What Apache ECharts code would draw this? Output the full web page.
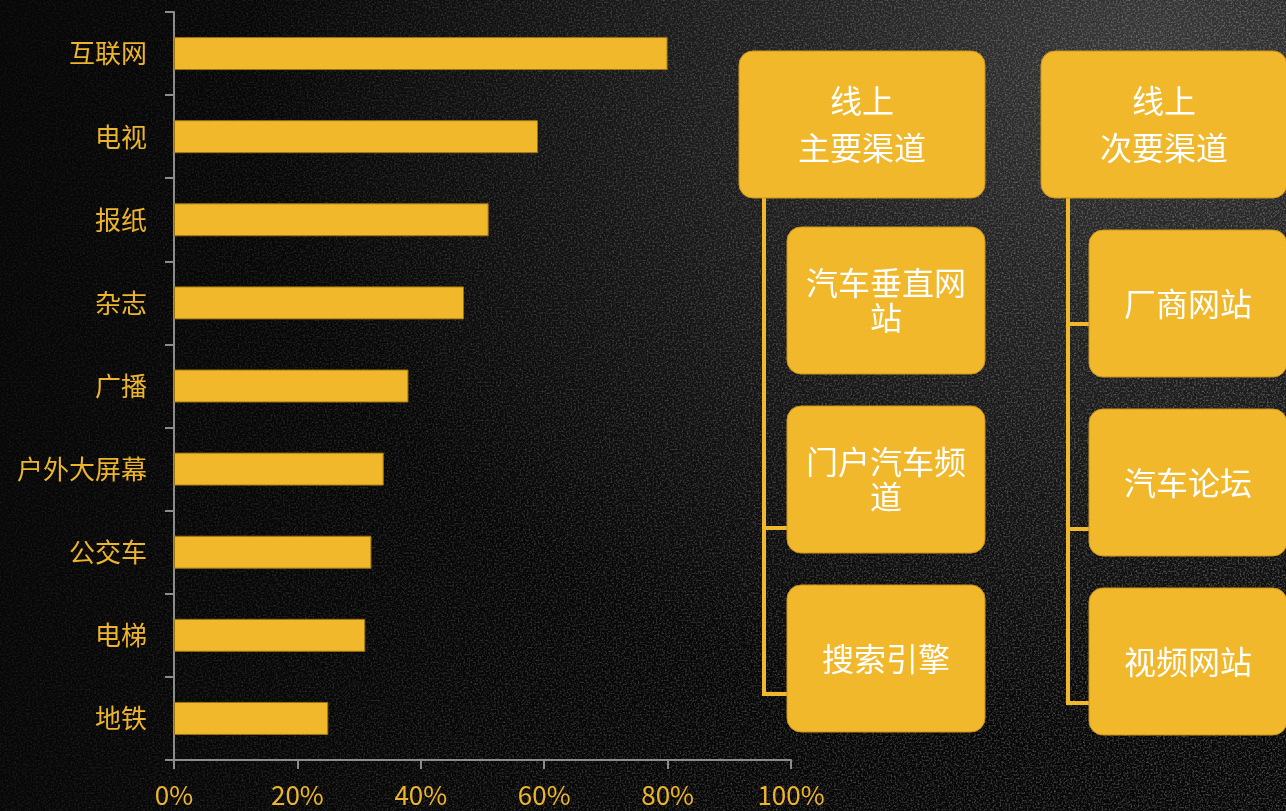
<!DOCTYPE html>
<html>
<head>
<meta charset="utf-8">
<script src="https://cdn.jsdelivr.net/npm/echarts@6/dist/echarts.min.js"></script>
<style>
  html, body { margin: 0; padding: 0; width: 1286px; height: 811px; overflow: hidden; background: #0a0a0a; }
  #wrap { position: relative; width: 1286px; height: 811px;
    background:
      radial-gradient(ellipse 900px 700px at 1150px 40px, #383838 0%, #242424 35%, #131313 70%, #070707 100%);
  }
  #grain { position: absolute; left: 0; top: 0; width: 1286px; height: 811px; opacity: 0.6; mix-blend-mode: screen;
    -webkit-mask-image: linear-gradient(100deg, rgba(0,0,0,0.15) 0%, rgba(0,0,0,0.65) 45%, #000 100%);
    mask-image: linear-gradient(100deg, rgba(0,0,0,0.15) 0%, rgba(0,0,0,0.65) 45%, #000 100%);
  }
  #chart { position: absolute; left: 0; top: 0; width: 1286px; height: 811px; }
</style>
</head>
<body>
<div id="wrap">
  <svg id="grain" width="1286" height="811" xmlns="http://www.w3.org/2000/svg">
    <filter id="n">
      <feTurbulence type="fractalNoise" baseFrequency="0.55" numOctaves="2" seed="7"/>
      <feColorMatrix type="matrix" values="0 0 0 0 0.45  0 0 0 0 0.45  0 0 0 0 0.45  0 0 0 1.8 -0.8"/>
    </filter>
    <rect width="1286" height="811" filter="url(#n)"/>
  </svg>
  <div id="chart"></div>
</div>
<script>
// media channels and their reach (%)
const categories = ['互联网', '电视', '报纸', '杂志', '广播', '户外大屏幕', '公交车', '电梯', '地铁'];
const reach = [80, 59, 51, 47, 38, 34, 32, 31, 25];

// online channel groups
const primaryTitle = '线上\n主要渠道';
const primaryItems = ['汽车垂直网\n站', '门户汽车频\n道', '搜索引擎'];
const secondaryTitle = '线上\n次要渠道';
const secondaryItems = ['厂商网站', '汽车论坛', '视频网站'];

const GOLD = '#F0B82A';
const LABEL = '#EDB52B';
const AXIS = '#8c8c8c';
const FONT = '"Noto Sans CJK SC", "Noto Sans", sans-serif';

function box(x, y, w, h, text, lineHeight) {
  return {
    type: 'group',
    children: [
      { type: 'rect', shape: { x: x, y: y, width: w, height: h, r: 14 },
        style: { fill: GOLD, stroke: '#c9951c', lineWidth: 1 } },
      { type: 'text', style: {
          x: x + w / 2, y: y + h / 2, text: text, align: 'center', verticalAlign: 'middle',
          fill: '#ffffff', fontSize: 32, fontFamily: FONT, lineHeight: lineHeight } }
    ]
  };
}

function connector(x, yTop, branches, toX) {
  const items = [{
    type: 'line', shape: { x1: x, y1: yTop, x2: x, y2: branches[branches.length - 1] + 2 },
    style: { stroke: GOLD, lineWidth: 4 }
  }];
  branches.forEach(function (by) {
    items.push({ type: 'line', shape: { x1: x - 2, y1: by, x2: toX, y2: by },
      style: { stroke: GOLD, lineWidth: 4 } });
  });
  return items;
}

const childTopsL = [227, 406, 585];
const childTopsR = [230, 409, 588];

const graphics = []
  .concat(connector(764, 196, [528, 694], 790))
  .concat(connector(1068, 196, [324, 529, 703], 1092))
  .concat([box(739, 51, 246, 147, primaryTitle, 47)])
  .concat(primaryItems.map(function (t, i) { return box(787, childTopsL[i], 198, 147, t, 35); }))
  .concat([box(1041, 51, 246, 147, secondaryTitle, 47)])
  .concat(secondaryItems.map(function (t, i) { return box(1089, childTopsR[i], 198, 147, t, 35); }));

const chart = echarts.init(document.getElementById('chart'), null, { renderer: 'canvas' });
chart.setOption({
  backgroundColor: 'transparent',
  animation: false,
  grid: { left: 174, right: 495, top: 12, bottom: 51, containLabel: false },
  xAxis: {
    type: 'value', min: 0, max: 100, interval: 20,
    axisLine: { show: true, lineStyle: { color: AXIS, width: 2 } },
    axisTick: { show: true, length: 9, lineStyle: { color: AXIS, width: 2 } },
    splitLine: { show: false },
    axisLabel: { color: LABEL, fontSize: 26, fontFamily: FONT, margin: 22, formatter: '{value}%' }
  },
  yAxis: {
    type: 'category', data: categories, inverse: true,
    axisLine: { show: true, lineStyle: { color: AXIS, width: 2 } },
    axisTick: { show: true, length: 9, lineStyle: { color: AXIS, width: 2 } },
    axisLabel: { color: LABEL, fontSize: 26, fontFamily: FONT, margin: 27 }
  },
  series: [{
    type: 'bar', data: reach, barWidth: 33,
    itemStyle: { color: GOLD, borderColor: '#9c7414', borderWidth: 1 }
  }],
  graphic: graphics
});
</script>
</body>
</html>
